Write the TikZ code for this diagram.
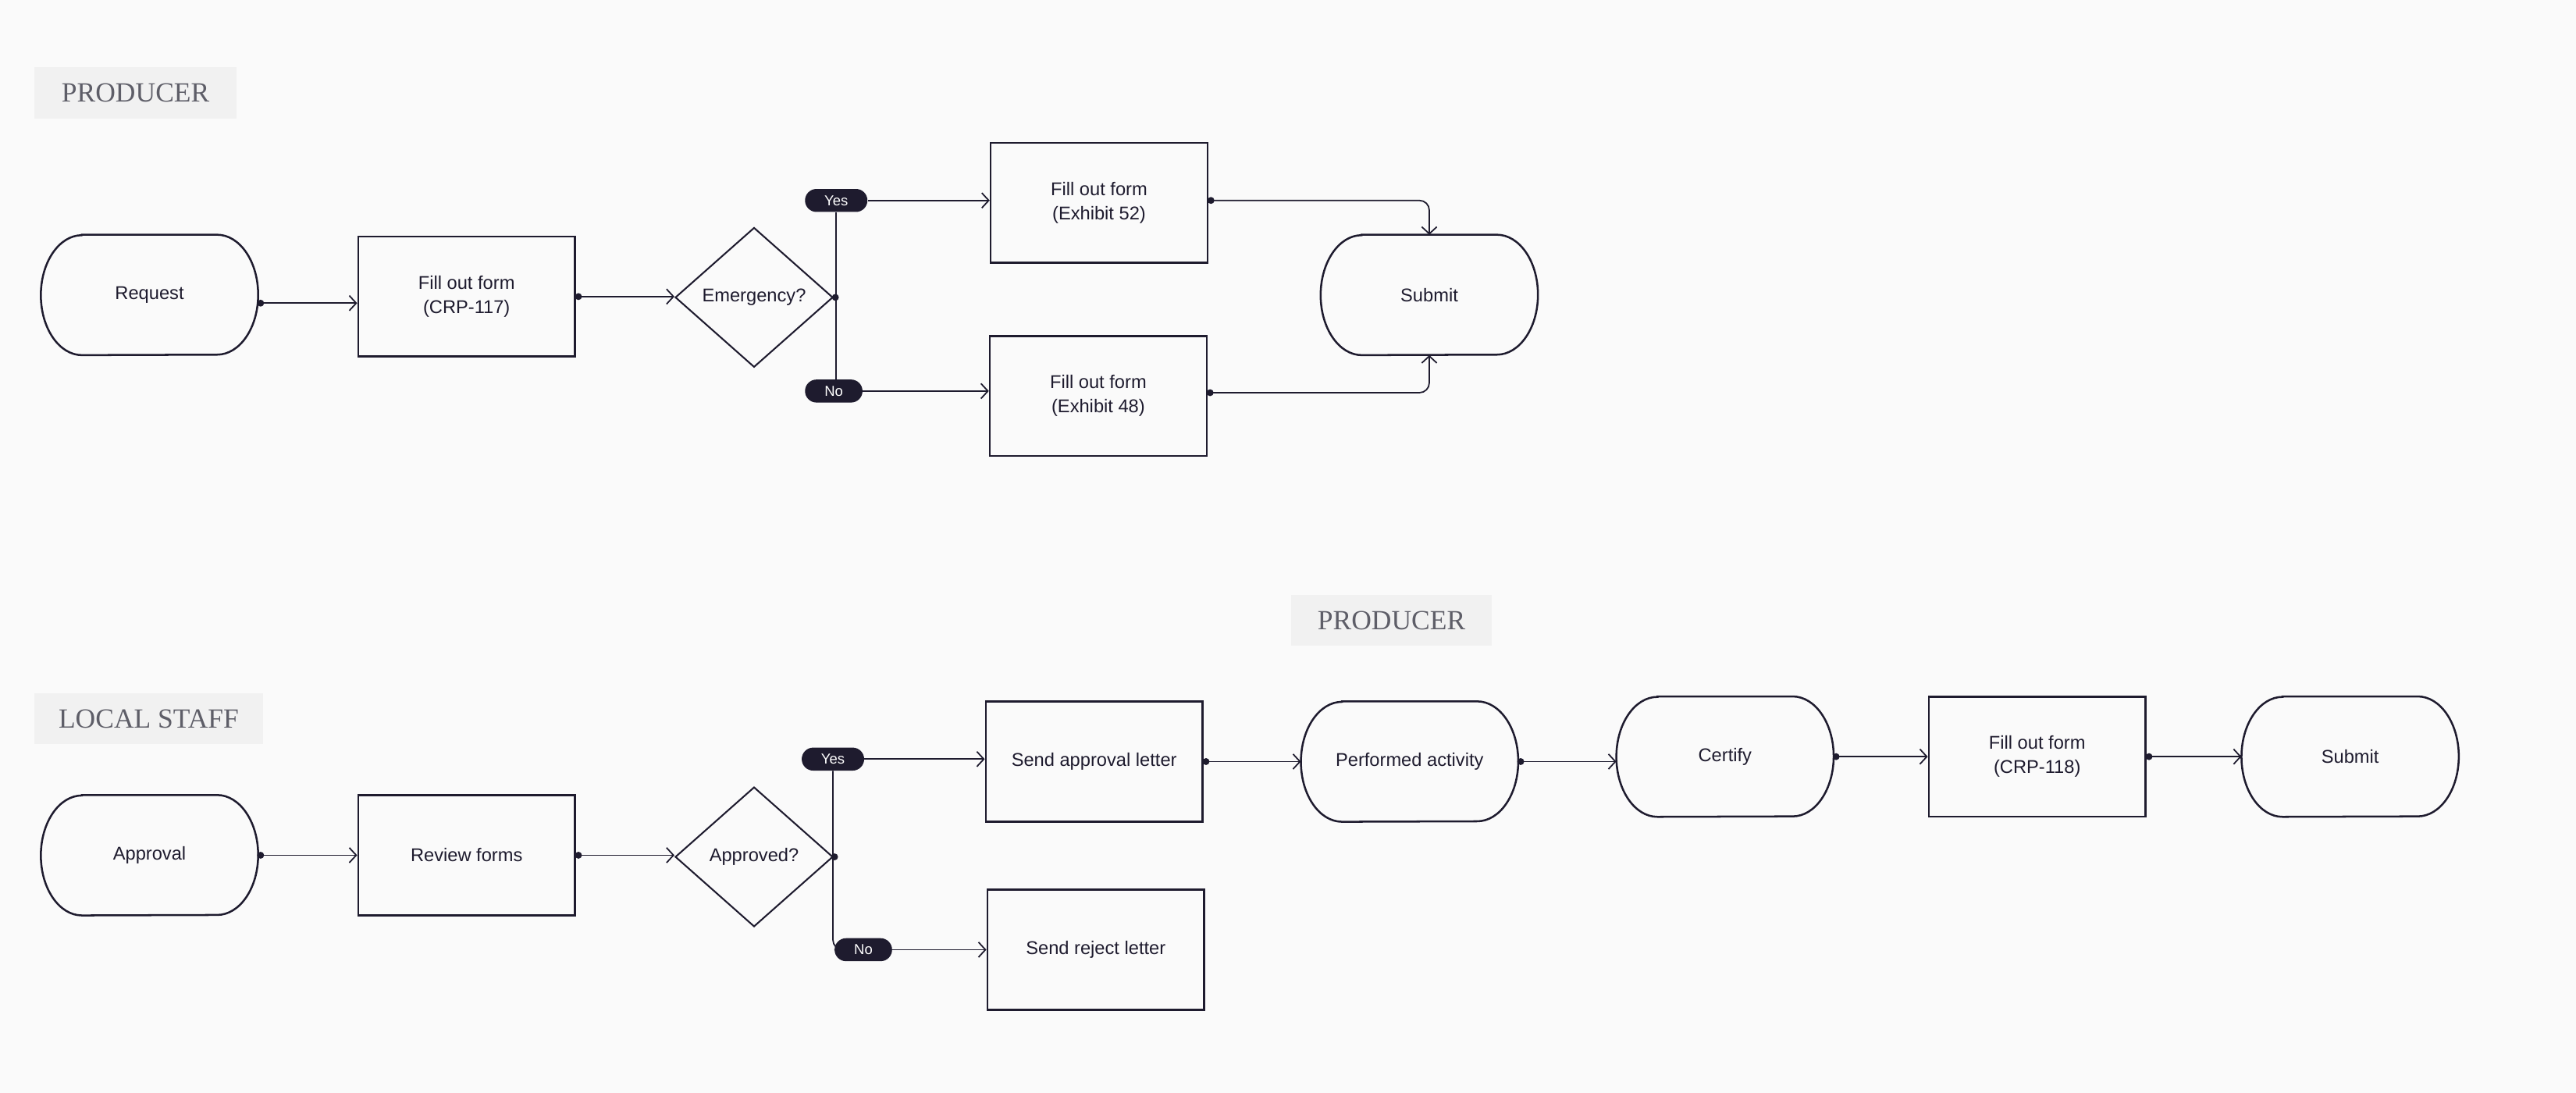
\documentclass[tikz,border=0pt]{standalone}
\usepackage{fontspec}
\setmainfont{Liberation Sans}
\newfontfamily\lanefont{Liberation Serif}
\usetikzlibrary{shapes.geometric,arrows.meta,calc}
\definecolor{ink}{HTML}{1E1B2E}
\definecolor{bg}{HTML}{FAFAFA}
\definecolor{lblfill}{HTML}{F1F1F1}
\definecolor{lbltext}{HTML}{5E5E68}
\newcommand{\mainsz}{\fontsize{16}{21}\selectfont}
\newcommand{\pillsz}{\fontsize{12.5}{14}\selectfont}
\newcommand{\lanesz}{\lanefont\fontsize{24}{28}\selectfont}
\newcommand{\dotat}[1]{\fill[ink] ($(#1)+(1.5,0)$) circle (3pt);}
\newcommand{\stadium}[4]{%
  \node[termnode] (#1) at (#2,#3) {#4};
  \draw[shapeline] ($(#1.north west)+(25,0)$) -- ($(#1.north east)+(-25,0)$)
    arc[start angle=90,end angle=-90,x radius=1.25cm,y radius=1.825cm]
    -- ($(#1.south west)+(25,0)$)
    arc[start angle=270,end angle=90,x radius=1.25cm,y radius=1.825cm] -- cycle;
}
\tikzset{
  shapeline/.style={draw=ink, line width=1.7pt},
  procbox/.style={shapeline, minimum width=6.6cm, minimum height=3.65cm, inner sep=0pt, align=center, font=\mainsz, text=ink},
  termnode/.style={minimum width=6.6cm, minimum height=3.65cm, inner sep=0pt, align=center, font=\mainsz, text=ink},
  decision/.style={diamond, draw=ink, line width=1.4pt, minimum width=4.8cm, minimum height=4.25cm, inner sep=0pt, font=\mainsz, text=ink},
  pill/.style={fill=ink, text=white, rounded corners=0.35cm, minimum width=1.9cm, minimum height=0.7cm, inner sep=0pt, font=\pillsz},
  lane/.style={fill=lblfill, text=lbltext, font=\lanesz, inner sep=0pt, minimum height=1.55cm},
  branch/.style={draw=ink, line width=1.2pt},
  conn/.style={draw=ink, line width=1.2pt, -{Straight Barb[length=6pt,width=13pt]}}
}
\begin{document}
\begin{tikzpicture}[x=0.05cm,y=0.05cm]
\fill[bg] (0,0) rectangle (1568,665);
\useasboundingbox (0,0) rectangle (1568,665);

% ---------- top section ----------
\node[lane, minimum width=6.15cm] (lane1) at (82.5,608.5) {PRODUCER};
\stadium{request}{91}{485.5}{Request}
\node[procbox] (f117) at (284,484.5) {Fill out form\\(CRP-117)};
\node[decision] (emerg) at (459,484) {Emergency?};
\node[pill] (yes1) at (509,543) {Yes};
\node[pill, minimum width=1.75cm] (no1) at (507.5,427) {No};
\node[procbox] (ex52) at (669,541.5) {Fill out form\\(Exhibit 52)};
\node[procbox] (ex48) at (668.5,424) {Fill out form\\(Exhibit 48)};
\stadium{submitA}{870}{485.5}{Submit}

\coordinate (rq) at ($(request.east)+(0,-5)$);
\draw[conn] (rq) -- (rq -| f117.west);
\dotat{rq}
\draw[conn] (f117.east) -- (f117.east -| emerg.west);
\dotat{f117.east}
\draw[branch] (yes1.south) -- (yes1.south |- no1.north);
\fill[ink] (emerg.east) ++(1,0) circle (3pt);
\draw[conn] (yes1.east) -- (yes1.east -| ex52.west);
\draw[conn] (no1.east) -- (no1.east -| ex48.west);
\coordinate (e52) at ($(ex52.east)+(0,1.5)$);
\draw[conn, rounded corners=0.3cm] (e52) -| (submitA.north);
\dotat{e52}
\coordinate (e48) at ($(ex48.east)+(0,2)$);
\draw[conn, rounded corners=0.3cm] (e48) -| (submitA.south);
\dotat{e48}

% ---------- bottom section ----------
\node[lane, minimum width=6.95cm] (lane2) at (90.5,227.5) {LOCAL STAFF};
\node[lane, minimum width=6.1cm] (lane3) at (847,287.5) {PRODUCER};
\stadium{approval}{91}{144.5}{Approval}
\node[procbox] (review) at (284,144.5) {Review forms};
\node[decision] (approved) at (459,143.5) {Approved?};
\node[pill] (yes2) at (507,203) {Yes};
\node[pill, minimum width=1.75cm] (no2) at (525.5,87) {No};
\node[procbox] (sendapp) at (666,201.5) {Send approval letter};
\node[procbox] (sendrej) at (667,87) {Send reject letter};
\stadium{perf}{858}{201.5}{Performed activity}
\stadium{certify}{1050}{204.5}{Certify}
\node[procbox] (f118) at (1240,204.5) {Fill out form\\(CRP-118)};
\stadium{submitB}{1430.5}{204.5}{Submit}

\draw[conn] (approval.east) -- (approval.east -| review.west);
\dotat{approval.east}
\draw[conn] (review.east) -- (review.east -| approved.west);
\dotat{review.east}
\draw[branch, rounded corners=0.3cm] (yes2.south) |- (no2.west);
\fill[ink] (approved.east) ++(0.5,0) circle (3pt);
\draw[conn] (yes2.east) -- (yes2.east -| sendapp.west);
\draw[conn] (no2.east) -- (no2.east -| sendrej.west);
\draw[conn] (sendapp.east) -- (sendapp.east -| perf.west);
\dotat{sendapp.east}
\draw[conn] (perf.east) -- (perf.east -| certify.west);
\dotat{perf.east}
\draw[conn] (certify.east) -- (certify.east -| f118.west);
\dotat{certify.east}
\draw[conn] (f118.east) -- (f118.east -| submitB.west);
\dotat{f118.east}
\end{tikzpicture}
\end{document}
